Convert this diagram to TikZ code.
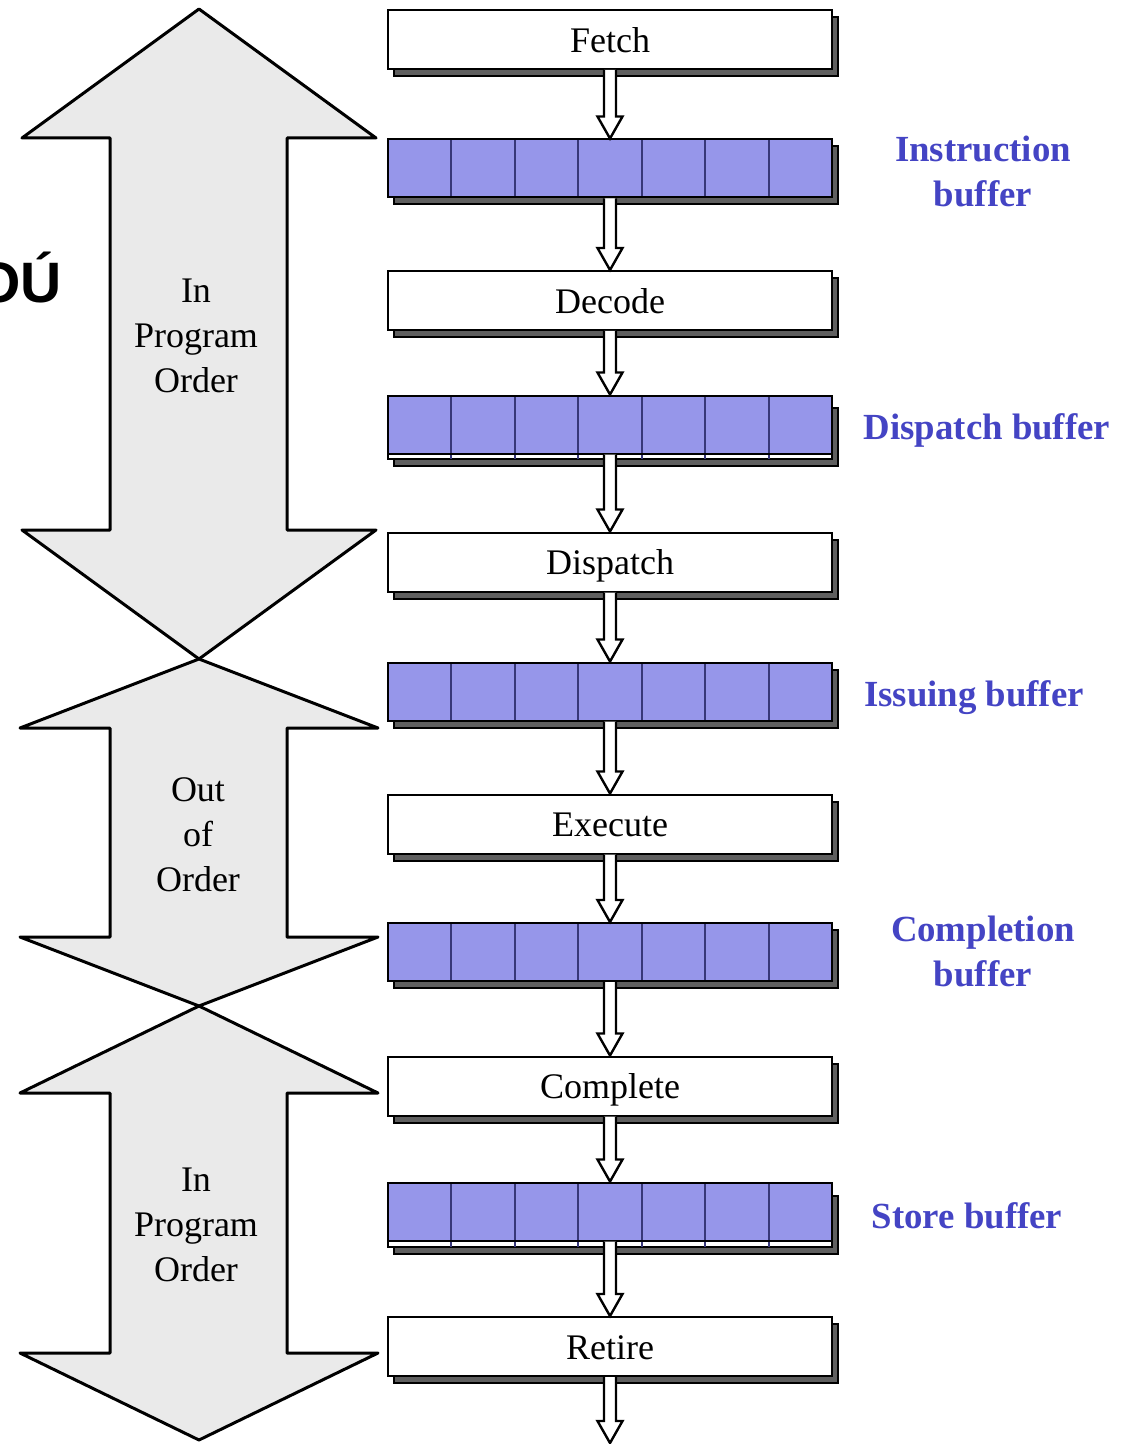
\documentclass[tikz,border=0pt]{standalone}
\usepackage{fontspec}
\setmainfont{Liberation Serif}
\newfontfamily\labsans{Liberation Sans}
\usetikzlibrary{calc,shadows}
\definecolor{arrowgray}{RGB}{234,234,234}
\definecolor{bufblue}{RGB}{150,150,234}
\definecolor{divcol}{RGB}{55,55,120}
\definecolor{labblue}{RGB}{68,68,196}
\definecolor{shadowgray}{RGB}{95,95,95}
\tikzset{
  stagebox/.style={draw=black, line width=1pt, fill=white, minimum width=222pt,
    minimum height=29.5pt, inner sep=0pt, text height=12.7pt, text depth=0pt,
    font=\fontsize{18}{21}\selectfont,
    drop shadow={shadow xshift=3pt, shadow yshift=-3.5pt, fill=shadowgray, draw=black, opacity=1}},
  bufbase/.style={draw=black, line width=1pt, fill=bufblue, minimum width=222pt,
    minimum height=29pt, inner sep=0pt,
    path picture={
      \foreach \i in {1,...,6}{
        \draw[divcol, line width=1pt]
          ($(path picture bounding box.south west)!\i/7!(path picture bounding box.south east)$) --
          ($(path picture bounding box.north west)!\i/7!(path picture bounding box.north east)$);}}},
  bufbox/.style={bufbase,
    drop shadow={shadow xshift=3pt, shadow yshift=-3.5pt, fill=shadowgray, draw=black, opacity=1}},
  underlayer/.style={draw=black, line width=1pt, fill=white},
  undershadow/.style={draw=black, line width=1pt, fill=shadowgray},
  hollowline/.style={draw=black, fill=white, line width=1.2pt, line join=miter},
  bigarrow/.style={draw=black, line width=1.5pt, fill=arrowgray, line join=round},
  ordertext/.style={align=center, font=\fontsize{18}{22.5}\selectfont},
  buflabel/.style={align=center, text=labblue, font=\fontsize{18.4}{22.5}\selectfont\bfseries},
  cuttext/.style={font=\labsans\bfseries\fontsize{28.5}{30}\selectfont, inner sep=0pt}
}
\newcommand\hollowarrow[2]{%
  \path[hollowline] let \p1=(#1), \p2=(#2) in
    (\x1-3pt,\y1) -- (\x1-3pt,\y2+11pt) -- (\x1-6.25pt,\y2+11pt) -- (\x1,\y2) --
    (\x1+6.25pt,\y2+11pt) -- (\x1+3pt,\y2+11pt) -- (\x1+3pt,\y1);}
\begin{document}
\begin{tikzpicture}[x=0.5pt, y=-0.5pt]
\useasboundingbox (0,0) rectangle (1129,1444);
\fill[white] (0,0) rectangle (1129,1444);

% cut-off text at the left edge
\node[cuttext, anchor=base east] (cut) at (62,303) {OÚ};

% big order arrows
\draw[bigarrow] (199,9) -- (376,138) -- (287,138) -- (287,530) -- (376,530) -- (199,659)
  -- (22,530) -- (110,530) -- (110,138) -- (22,138) -- cycle;
\draw[bigarrow] (199,659) -- (378,728) -- (287,728) -- (287,937) -- (378,937) -- (199,1006)
  -- (20,937) -- (110,937) -- (110,728) -- (20,728) -- cycle;
\draw[bigarrow] (199,1006) -- (378,1093) -- (287,1093) -- (287,1353) -- (378,1353) -- (199,1440)
  -- (20,1353) -- (110,1353) -- (110,1093) -- (20,1093) -- cycle;
\node[ordertext] (ord1) at (196,336) {In\\Program\\Order};
\node[ordertext] (ord2) at (198,835) {Out\\of\\Order};
\node[ordertext] (ord3) at (196,1225) {In\\Program\\Order};

% under layers of stacked buffers
\foreach \t in {401,1189}{
  \draw[undershadow] (394,\t+7) rectangle (838,\t+65);
  \draw[underlayer] (388,\t) rectangle (832,\t+58);
  \foreach \i in {1,...,6}{\draw[divcol, line width=1pt] (388+\i*444/7,\t) -- (388+\i*444/7,\t+58);}
}

% pipeline
\node[stagebox] (fetch) at (610,39.5) {Fetch};
\node[bufbox] (ibuf) at (610,168.5) {};
\node[stagebox] (decode) at (610,300.5) {Decode};
\node[bufbase] (dbuf) at (610,424.5) {};
\node[stagebox] (dispatch) at (610,562) {Dispatch};
\node[bufbox] (isbuf) at (610,691.5) {};
\node[stagebox] (execute) at (610,824) {Execute};
\node[bufbox] (cbuf) at (610,952) {};
\node[stagebox] (complete) at (610,1086) {Complete};
\node[bufbase] (sbuf) at (610,1211.5) {};
\node[stagebox] (retire) at (610,1346.5) {Retire};
\coordinate (exit) at (610,1443);

\hollowarrow{fetch.south}{ibuf.north}
\hollowarrow{ibuf.south}{decode.north}
\hollowarrow{decode.south}{dbuf.north}
\hollowarrow{dbuf.south}{dispatch.north}
\hollowarrow{dispatch.south}{isbuf.north}
\hollowarrow{isbuf.south}{execute.north}
\hollowarrow{execute.south}{cbuf.north}
\hollowarrow{cbuf.south}{complete.north}
\hollowarrow{complete.south}{sbuf.north}
\hollowarrow{sbuf.south}{retire.north}
\hollowarrow{retire.south}{exit}

% buffer labels
\node[buflabel] (l1) at (983,171) {Instruction\\buffer};
\node[buflabel] (l2) at (987,430) {Dispatch buffer};
\node[buflabel] (l3) at (974,698) {Issuing buffer};
\node[buflabel] (l4) at (983,951) {Completion\\buffer};
\node[buflabel] (l5) at (967,1216) {Store buffer};
\end{tikzpicture}
\end{document}
